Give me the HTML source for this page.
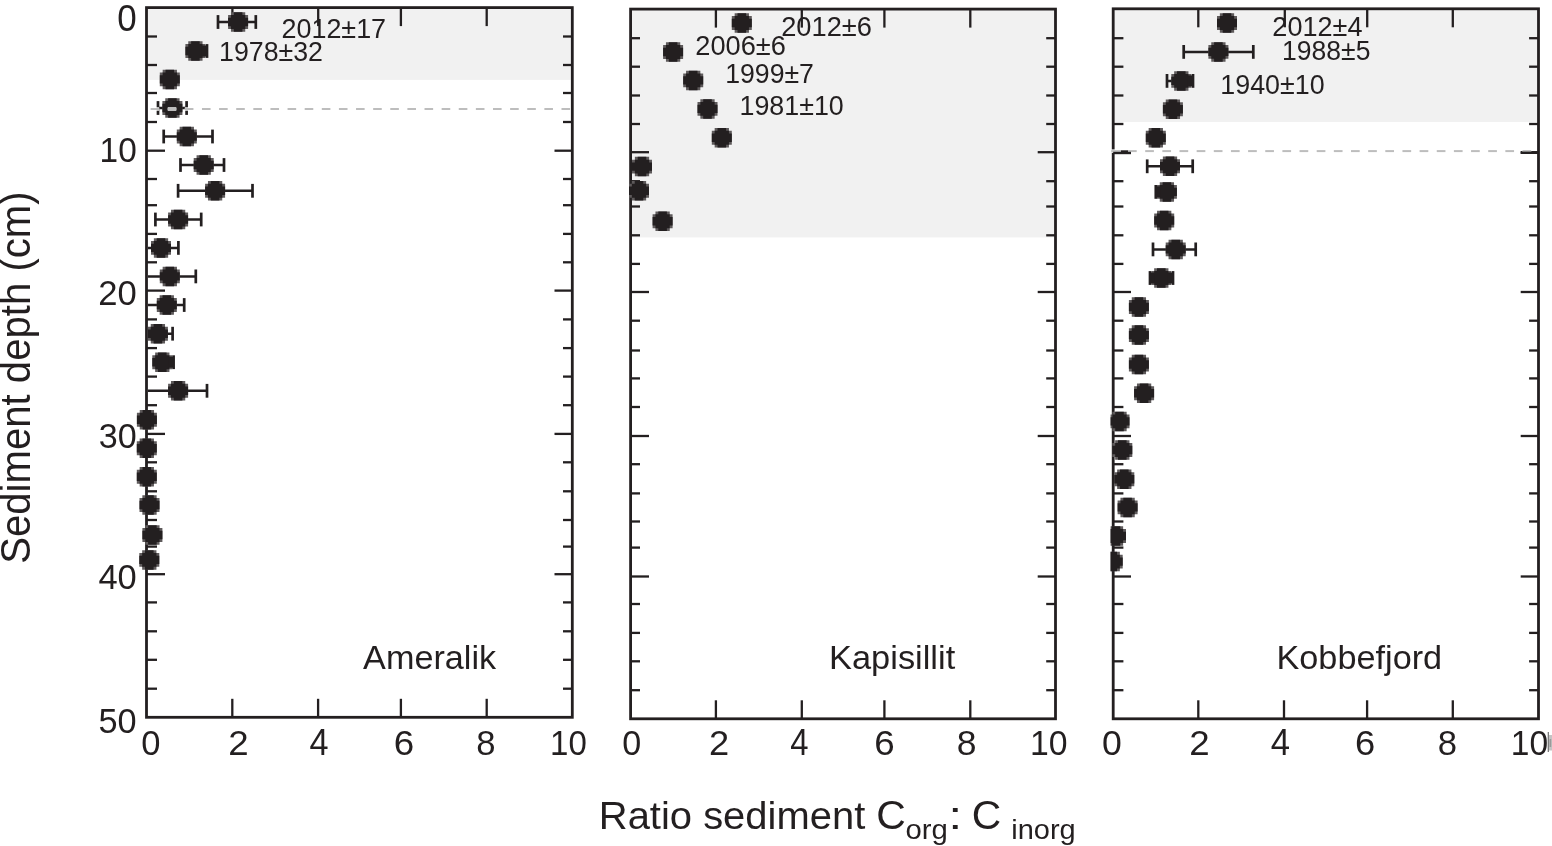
<!DOCTYPE html><html><head><meta charset="utf-8"><title>Ratio sediment Corg : Cinorg</title><style>html,body{margin:0;padding:0;background:#fff;}svg{display:block;}text{font-family:"Liberation Sans", sans-serif;}</style></head><body>
<svg width="1552" height="846" viewBox="0 0 1552 846">
<rect x="0" y="0" width="1552" height="846" fill="#fff"/>
<defs>
<g id="mk"><path d="M-7.143,-9.750 L7.143,-9.750 L7.143,-6.964 L10.000,-6.964 L10.000,6.964 L7.143,6.964 L7.143,9.750 L-7.143,9.750 L-7.143,6.964 L-10.000,6.964 L-10.000,-6.964 L-7.143,-6.964 Z" fill="#5e5a5b"/><path d="M-4.286,-9.750 L4.286,-9.750 L4.286,-6.964 L7.143,-6.964 L7.143,-4.179 L10.000,-4.179 L10.000,4.179 L7.143,4.179 L7.143,6.964 L4.286,6.964 L4.286,9.750 L-4.286,9.750 L-4.286,6.964 L-7.143,6.964 L-7.143,4.179 L-10.000,4.179 L-10.000,-4.179 L-7.143,-4.179 L-7.143,-6.964 L-4.286,-6.964 Z" fill="#231f20"/></g>
<clipPath id="c0"><rect x="113.90" y="0" width="465.80" height="846"/></clipPath>
<clipPath id="c1"><rect x="628.00" y="0" width="464.90" height="846"/></clipPath>
<clipPath id="c2"><rect x="1110.60" y="0" width="465.30" height="846"/></clipPath>
</defs>
<rect x="146.50" y="7.60" width="425.80" height="72.30" fill="#f1f1f1"/>
<rect x="630.60" y="9.10" width="424.90" height="228.30" fill="#f1f1f1"/>
<rect x="1113.20" y="8.80" width="425.30" height="113.20" fill="#f1f1f1"/>
<g stroke="#231f20" stroke-width="2.3"><line x1="146.50" y1="36.50" x2="157.00" y2="36.50"/><line x1="572.30" y1="36.50" x2="563.00" y2="36.50"/><line x1="146.50" y1="65.00" x2="157.00" y2="65.00"/><line x1="572.30" y1="65.00" x2="563.00" y2="65.00"/><line x1="146.50" y1="93.00" x2="157.00" y2="93.00"/><line x1="572.30" y1="93.00" x2="563.00" y2="93.00"/><line x1="146.50" y1="122.00" x2="157.00" y2="122.00"/><line x1="572.30" y1="122.00" x2="563.00" y2="122.00"/><line x1="146.50" y1="150.70" x2="165.00" y2="150.70"/><line x1="572.30" y1="150.70" x2="554.50" y2="150.70"/><line x1="146.50" y1="179.00" x2="157.00" y2="179.00"/><line x1="572.30" y1="179.00" x2="563.00" y2="179.00"/><line x1="146.50" y1="205.20" x2="157.00" y2="205.20"/><line x1="572.30" y1="205.20" x2="563.00" y2="205.20"/><line x1="146.50" y1="233.90" x2="157.00" y2="233.90"/><line x1="572.30" y1="233.90" x2="563.00" y2="233.90"/><line x1="146.50" y1="262.30" x2="157.00" y2="262.30"/><line x1="572.30" y1="262.30" x2="563.00" y2="262.30"/><line x1="146.50" y1="290.60" x2="165.00" y2="290.60"/><line x1="572.30" y1="290.60" x2="554.50" y2="290.60"/><line x1="146.50" y1="319.40" x2="157.00" y2="319.40"/><line x1="572.30" y1="319.40" x2="563.00" y2="319.40"/><line x1="146.50" y1="348.10" x2="157.00" y2="348.10"/><line x1="572.30" y1="348.10" x2="563.00" y2="348.10"/><line x1="146.50" y1="376.60" x2="157.00" y2="376.60"/><line x1="572.30" y1="376.60" x2="563.00" y2="376.60"/><line x1="146.50" y1="405.20" x2="157.00" y2="405.20"/><line x1="572.30" y1="405.20" x2="563.00" y2="405.20"/><line x1="146.50" y1="433.90" x2="165.00" y2="433.90"/><line x1="572.30" y1="433.90" x2="554.50" y2="433.90"/><line x1="146.50" y1="462.30" x2="157.00" y2="462.30"/><line x1="572.30" y1="462.30" x2="563.00" y2="462.30"/><line x1="146.50" y1="491.30" x2="157.00" y2="491.30"/><line x1="572.30" y1="491.30" x2="563.00" y2="491.30"/><line x1="146.50" y1="520.00" x2="157.00" y2="520.00"/><line x1="572.30" y1="520.00" x2="563.00" y2="520.00"/><line x1="146.50" y1="546.60" x2="157.00" y2="546.60"/><line x1="572.30" y1="546.60" x2="563.00" y2="546.60"/><line x1="146.50" y1="574.20" x2="165.00" y2="574.20"/><line x1="572.30" y1="574.20" x2="554.50" y2="574.20"/><line x1="146.50" y1="602.40" x2="157.00" y2="602.40"/><line x1="572.30" y1="602.40" x2="563.00" y2="602.40"/><line x1="146.50" y1="631.30" x2="157.00" y2="631.30"/><line x1="572.30" y1="631.30" x2="563.00" y2="631.30"/><line x1="146.50" y1="659.80" x2="157.00" y2="659.80"/><line x1="572.30" y1="659.80" x2="563.00" y2="659.80"/><line x1="146.50" y1="688.70" x2="157.00" y2="688.70"/><line x1="572.30" y1="688.70" x2="563.00" y2="688.70"/><line x1="232.30" y1="717.30" x2="232.30" y2="698.80"/><line x1="318.10" y1="717.30" x2="318.10" y2="698.80"/><line x1="400.90" y1="717.30" x2="400.90" y2="698.80"/><line x1="486.70" y1="717.30" x2="486.70" y2="698.80"/><line x1="232.40" y1="7.60" x2="232.40" y2="26.10"/><line x1="318.20" y1="7.60" x2="318.20" y2="26.10"/><line x1="400.90" y1="7.60" x2="400.90" y2="26.10"/><line x1="486.70" y1="7.60" x2="486.70" y2="26.10"/></g>
<g stroke="#231f20" stroke-width="2.3"><line x1="630.60" y1="38.20" x2="640.00" y2="38.20"/><line x1="1055.50" y1="38.20" x2="1046.20" y2="38.20"/><line x1="630.60" y1="66.70" x2="640.00" y2="66.70"/><line x1="1055.50" y1="66.70" x2="1046.20" y2="66.70"/><line x1="630.60" y1="95.50" x2="640.00" y2="95.50"/><line x1="1055.50" y1="95.50" x2="1046.20" y2="95.50"/><line x1="630.60" y1="124.00" x2="640.00" y2="124.00"/><line x1="1055.50" y1="124.00" x2="1046.20" y2="124.00"/><line x1="630.60" y1="152.20" x2="649.00" y2="152.20"/><line x1="1055.50" y1="152.20" x2="1037.70" y2="152.20"/><line x1="630.60" y1="181.20" x2="640.00" y2="181.20"/><line x1="1055.50" y1="181.20" x2="1046.20" y2="181.20"/><line x1="630.60" y1="206.50" x2="640.00" y2="206.50"/><line x1="1055.50" y1="206.50" x2="1046.20" y2="206.50"/><line x1="630.60" y1="235.30" x2="640.00" y2="235.30"/><line x1="1055.50" y1="235.30" x2="1046.20" y2="235.30"/><line x1="630.60" y1="263.90" x2="640.00" y2="263.90"/><line x1="1055.50" y1="263.90" x2="1046.20" y2="263.90"/><line x1="630.60" y1="292.00" x2="649.00" y2="292.00"/><line x1="1055.50" y1="292.00" x2="1037.70" y2="292.00"/><line x1="630.60" y1="320.70" x2="640.00" y2="320.70"/><line x1="1055.50" y1="320.70" x2="1046.20" y2="320.70"/><line x1="630.60" y1="350.50" x2="640.00" y2="350.50"/><line x1="1055.50" y1="350.50" x2="1046.20" y2="350.50"/><line x1="630.60" y1="378.40" x2="640.00" y2="378.40"/><line x1="1055.50" y1="378.40" x2="1046.20" y2="378.40"/><line x1="630.60" y1="407.00" x2="640.00" y2="407.00"/><line x1="1055.50" y1="407.00" x2="1046.20" y2="407.00"/><line x1="630.60" y1="436.00" x2="649.00" y2="436.00"/><line x1="1055.50" y1="436.00" x2="1037.70" y2="436.00"/><line x1="630.60" y1="464.20" x2="640.00" y2="464.20"/><line x1="1055.50" y1="464.20" x2="1046.20" y2="464.20"/><line x1="630.60" y1="493.40" x2="640.00" y2="493.40"/><line x1="1055.50" y1="493.40" x2="1046.20" y2="493.40"/><line x1="630.60" y1="521.50" x2="640.00" y2="521.50"/><line x1="1055.50" y1="521.50" x2="1046.20" y2="521.50"/><line x1="630.60" y1="547.60" x2="640.00" y2="547.60"/><line x1="1055.50" y1="547.60" x2="1046.20" y2="547.60"/><line x1="630.60" y1="576.50" x2="649.00" y2="576.50"/><line x1="1055.50" y1="576.50" x2="1037.70" y2="576.50"/><line x1="630.60" y1="604.00" x2="640.00" y2="604.00"/><line x1="1055.50" y1="604.00" x2="1046.20" y2="604.00"/><line x1="630.60" y1="632.90" x2="640.00" y2="632.90"/><line x1="1055.50" y1="632.90" x2="1046.20" y2="632.90"/><line x1="630.60" y1="661.30" x2="640.00" y2="661.30"/><line x1="1055.50" y1="661.30" x2="1046.20" y2="661.30"/><line x1="630.60" y1="690.20" x2="640.00" y2="690.20"/><line x1="1055.50" y1="690.20" x2="1046.20" y2="690.20"/><line x1="715.90" y1="718.80" x2="715.90" y2="700.30"/><line x1="801.80" y1="718.80" x2="801.80" y2="700.30"/><line x1="884.40" y1="718.80" x2="884.40" y2="700.30"/><line x1="970.30" y1="718.80" x2="970.30" y2="700.30"/><line x1="715.90" y1="9.10" x2="715.90" y2="27.60"/><line x1="801.80" y1="9.10" x2="801.80" y2="27.60"/><line x1="884.40" y1="9.10" x2="884.40" y2="27.60"/><line x1="970.30" y1="9.10" x2="970.30" y2="27.60"/></g>
<g stroke="#231f20" stroke-width="2.3"><line x1="1113.20" y1="38.20" x2="1123.40" y2="38.20"/><line x1="1538.50" y1="38.20" x2="1529.10" y2="38.20"/><line x1="1113.20" y1="66.70" x2="1123.40" y2="66.70"/><line x1="1538.50" y1="66.70" x2="1529.10" y2="66.70"/><line x1="1113.20" y1="95.50" x2="1123.40" y2="95.50"/><line x1="1538.50" y1="95.50" x2="1529.10" y2="95.50"/><line x1="1113.20" y1="124.00" x2="1123.40" y2="124.00"/><line x1="1538.50" y1="124.00" x2="1529.10" y2="124.00"/><line x1="1113.20" y1="152.20" x2="1131.00" y2="152.20"/><line x1="1538.50" y1="152.20" x2="1520.70" y2="152.20"/><line x1="1113.20" y1="181.20" x2="1123.40" y2="181.20"/><line x1="1538.50" y1="181.20" x2="1529.10" y2="181.20"/><line x1="1113.20" y1="206.50" x2="1123.40" y2="206.50"/><line x1="1538.50" y1="206.50" x2="1529.10" y2="206.50"/><line x1="1113.20" y1="235.30" x2="1123.40" y2="235.30"/><line x1="1538.50" y1="235.30" x2="1529.10" y2="235.30"/><line x1="1113.20" y1="263.90" x2="1123.40" y2="263.90"/><line x1="1538.50" y1="263.90" x2="1529.10" y2="263.90"/><line x1="1113.20" y1="292.00" x2="1131.00" y2="292.00"/><line x1="1538.50" y1="292.00" x2="1520.70" y2="292.00"/><line x1="1113.20" y1="320.70" x2="1123.40" y2="320.70"/><line x1="1538.50" y1="320.70" x2="1529.10" y2="320.70"/><line x1="1113.20" y1="350.50" x2="1123.40" y2="350.50"/><line x1="1538.50" y1="350.50" x2="1529.10" y2="350.50"/><line x1="1113.20" y1="378.40" x2="1123.40" y2="378.40"/><line x1="1538.50" y1="378.40" x2="1529.10" y2="378.40"/><line x1="1113.20" y1="407.00" x2="1123.40" y2="407.00"/><line x1="1538.50" y1="407.00" x2="1529.10" y2="407.00"/><line x1="1113.20" y1="436.00" x2="1131.00" y2="436.00"/><line x1="1538.50" y1="436.00" x2="1520.70" y2="436.00"/><line x1="1113.20" y1="464.20" x2="1123.40" y2="464.20"/><line x1="1538.50" y1="464.20" x2="1529.10" y2="464.20"/><line x1="1113.20" y1="493.40" x2="1123.40" y2="493.40"/><line x1="1538.50" y1="493.40" x2="1529.10" y2="493.40"/><line x1="1113.20" y1="521.50" x2="1123.40" y2="521.50"/><line x1="1538.50" y1="521.50" x2="1529.10" y2="521.50"/><line x1="1113.20" y1="547.60" x2="1123.40" y2="547.60"/><line x1="1538.50" y1="547.60" x2="1529.10" y2="547.60"/><line x1="1113.20" y1="576.50" x2="1131.00" y2="576.50"/><line x1="1538.50" y1="576.50" x2="1520.70" y2="576.50"/><line x1="1113.20" y1="604.00" x2="1123.40" y2="604.00"/><line x1="1538.50" y1="604.00" x2="1529.10" y2="604.00"/><line x1="1113.20" y1="632.90" x2="1123.40" y2="632.90"/><line x1="1538.50" y1="632.90" x2="1529.10" y2="632.90"/><line x1="1113.20" y1="661.30" x2="1123.40" y2="661.30"/><line x1="1538.50" y1="661.30" x2="1529.10" y2="661.30"/><line x1="1113.20" y1="690.20" x2="1123.40" y2="690.20"/><line x1="1538.50" y1="690.20" x2="1529.10" y2="690.20"/><line x1="1198.30" y1="718.80" x2="1198.30" y2="700.30"/><line x1="1284.00" y1="718.80" x2="1284.00" y2="700.30"/><line x1="1367.10" y1="718.80" x2="1367.10" y2="700.30"/><line x1="1452.80" y1="718.80" x2="1452.80" y2="700.30"/><line x1="1198.30" y1="8.80" x2="1198.30" y2="27.30"/><line x1="1284.80" y1="8.80" x2="1284.80" y2="27.30"/><line x1="1367.20" y1="8.80" x2="1367.20" y2="27.30"/><line x1="1452.80" y1="8.80" x2="1452.80" y2="27.30"/></g>
<rect x="146.50" y="7.60" width="425.80" height="709.70" fill="none" stroke="#231f20" stroke-width="2.8" stroke-linejoin="miter"/>
<rect x="630.60" y="9.10" width="424.90" height="709.70" fill="none" stroke="#231f20" stroke-width="2.8" stroke-linejoin="miter"/>
<rect x="1113.20" y="8.80" width="425.30" height="710.00" fill="none" stroke="#231f20" stroke-width="2.8" stroke-linejoin="miter"/>
<g clip-path="url(#c0)"><line x1="218.00" y1="22.00" x2="255.80" y2="22.00" stroke="#231f20" stroke-width="2.5"/><rect x="216.65" y="15.10" width="2.7" height="13.8" fill="#231f20"/><rect x="254.45" y="15.10" width="2.7" height="13.8" fill="#231f20"/><use href="#mk" x="238.10" y="22.00"/><line x1="195.40" y1="51.00" x2="207.00" y2="51.00" stroke="#231f20" stroke-width="2.5"/><rect x="205.65" y="44.10" width="2.7" height="13.8" fill="#231f20"/><use href="#mk" x="195.40" y="51.00"/><rect x="201.90" y="45.50" width="5.10" height="11" fill="#231f20"/><use href="#mk" x="169.80" y="79.40"/><line x1="158.00" y1="108.00" x2="186.60" y2="108.00" stroke="#231f20" stroke-width="2.5"/><rect x="156.65" y="101.10" width="2.7" height="13.8" fill="#231f20"/><rect x="185.25" y="101.10" width="2.7" height="13.8" fill="#231f20"/><use href="#mk" x="172.40" y="108.00"/><line x1="163.70" y1="136.50" x2="212.50" y2="136.50" stroke="#231f20" stroke-width="2.5"/><rect x="162.35" y="129.60" width="2.7" height="13.8" fill="#231f20"/><rect x="211.15" y="129.60" width="2.7" height="13.8" fill="#231f20"/><use href="#mk" x="186.80" y="136.50"/><line x1="180.50" y1="165.00" x2="224.00" y2="165.00" stroke="#231f20" stroke-width="2.5"/><rect x="179.15" y="158.10" width="2.7" height="13.8" fill="#231f20"/><rect x="222.65" y="158.10" width="2.7" height="13.8" fill="#231f20"/><use href="#mk" x="203.70" y="165.00"/><line x1="178.10" y1="190.80" x2="252.50" y2="190.80" stroke="#231f20" stroke-width="2.5"/><rect x="176.75" y="183.90" width="2.7" height="13.8" fill="#231f20"/><rect x="251.15" y="183.90" width="2.7" height="13.8" fill="#231f20"/><use href="#mk" x="215.10" y="190.80"/><line x1="155.40" y1="219.50" x2="201.20" y2="219.50" stroke="#231f20" stroke-width="2.5"/><rect x="154.05" y="212.60" width="2.7" height="13.8" fill="#231f20"/><rect x="199.85" y="212.60" width="2.7" height="13.8" fill="#231f20"/><use href="#mk" x="178.10" y="219.50"/><line x1="148.00" y1="247.90" x2="178.40" y2="247.90" stroke="#231f20" stroke-width="2.5"/><rect x="177.05" y="241.00" width="2.7" height="13.8" fill="#231f20"/><use href="#mk" x="161.00" y="247.90"/><line x1="148.00" y1="276.40" x2="195.80" y2="276.40" stroke="#231f20" stroke-width="2.5"/><rect x="194.45" y="269.50" width="2.7" height="13.8" fill="#231f20"/><use href="#mk" x="169.80" y="276.40"/><line x1="148.00" y1="305.00" x2="184.20" y2="305.00" stroke="#231f20" stroke-width="2.5"/><rect x="182.85" y="298.10" width="2.7" height="13.8" fill="#231f20"/><use href="#mk" x="166.80" y="305.00"/><line x1="148.00" y1="333.70" x2="172.60" y2="333.70" stroke="#231f20" stroke-width="2.5"/><rect x="171.25" y="326.80" width="2.7" height="13.8" fill="#231f20"/><use href="#mk" x="157.90" y="333.70"/><line x1="162.30" y1="362.20" x2="173.60" y2="362.20" stroke="#231f20" stroke-width="2.5"/><rect x="172.25" y="355.30" width="2.7" height="13.8" fill="#231f20"/><use href="#mk" x="162.30" y="362.20"/><rect x="168.80" y="356.70" width="4.80" height="11" fill="#231f20"/><line x1="148.00" y1="390.80" x2="207.00" y2="390.80" stroke="#231f20" stroke-width="2.5"/><rect x="205.65" y="383.90" width="2.7" height="13.8" fill="#231f20"/><use href="#mk" x="178.10" y="390.80"/><use href="#mk" x="146.90" y="419.70"/><use href="#mk" x="146.80" y="448.30"/><use href="#mk" x="146.80" y="476.70"/><use href="#mk" x="149.50" y="505.00"/><use href="#mk" x="152.40" y="535.00"/><use href="#mk" x="149.30" y="559.90"/></g>
<g clip-path="url(#c1)"><use href="#mk" x="741.80" y="23.00"/><use href="#mk" x="673.10" y="52.00"/><use href="#mk" x="693.20" y="80.40"/><use href="#mk" x="707.50" y="108.90"/><use href="#mk" x="721.80" y="137.80"/><use href="#mk" x="642.00" y="166.60"/><use href="#mk" x="639.00" y="190.80"/><use href="#mk" x="662.60" y="221.20"/></g>
<g clip-path="url(#c2)"><use href="#mk" x="1227.00" y="23.00"/><line x1="1183.70" y1="51.90" x2="1253.30" y2="51.90" stroke="#231f20" stroke-width="2.5"/><rect x="1182.35" y="45.00" width="2.7" height="13.8" fill="#231f20"/><rect x="1251.95" y="45.00" width="2.7" height="13.8" fill="#231f20"/><use href="#mk" x="1218.40" y="51.90"/><line x1="1167.00" y1="80.90" x2="1193.00" y2="80.90" stroke="#231f20" stroke-width="2.5"/><rect x="1165.65" y="74.00" width="2.7" height="13.8" fill="#231f20"/><rect x="1191.65" y="74.00" width="2.7" height="13.8" fill="#231f20"/><use href="#mk" x="1181.30" y="80.90"/><rect x="1187.80" y="75.40" width="5.20" height="11" fill="#231f20"/><use href="#mk" x="1172.90" y="109.20"/><use href="#mk" x="1155.80" y="137.80"/><line x1="1147.20" y1="166.30" x2="1192.70" y2="166.30" stroke="#231f20" stroke-width="2.5"/><rect x="1145.85" y="159.40" width="2.7" height="13.8" fill="#231f20"/><rect x="1191.35" y="159.40" width="2.7" height="13.8" fill="#231f20"/><use href="#mk" x="1170.00" y="166.30"/><line x1="1155.80" y1="191.90" x2="1166.90" y2="191.90" stroke="#231f20" stroke-width="2.5"/><rect x="1154.45" y="185.00" width="2.7" height="13.8" fill="#231f20"/><use href="#mk" x="1166.90" y="191.90"/><rect x="1155.80" y="186.40" width="4.60" height="11" fill="#231f20"/><use href="#mk" x="1164.20" y="220.50"/><line x1="1153.00" y1="249.40" x2="1195.70" y2="249.40" stroke="#231f20" stroke-width="2.5"/><rect x="1151.65" y="242.50" width="2.7" height="13.8" fill="#231f20"/><rect x="1194.35" y="242.50" width="2.7" height="13.8" fill="#231f20"/><use href="#mk" x="1175.70" y="249.40"/><line x1="1150.00" y1="278.00" x2="1173.00" y2="278.00" stroke="#231f20" stroke-width="2.5"/><rect x="1148.65" y="271.10" width="2.7" height="13.8" fill="#231f20"/><rect x="1171.65" y="271.10" width="2.7" height="13.8" fill="#231f20"/><use href="#mk" x="1161.30" y="278.00"/><rect x="1150.00" y="272.50" width="4.80" height="11" fill="#231f20"/><rect x="1167.80" y="272.50" width="5.20" height="11" fill="#231f20"/><use href="#mk" x="1138.90" y="307.00"/><use href="#mk" x="1138.90" y="335.10"/><use href="#mk" x="1138.90" y="364.50"/><use href="#mk" x="1144.10" y="393.30"/><use href="#mk" x="1119.50" y="421.40"/><use href="#mk" x="1122.30" y="450.00"/><use href="#mk" x="1124.30" y="479.30"/><use href="#mk" x="1127.60" y="507.40"/><use href="#mk" x="1116.00" y="536.00"/><use href="#mk" x="1112.70" y="561.60"/></g>
<g stroke="#ffffff" stroke-width="3.4"><line x1="150.60" y1="109.0" x2="159.20" y2="109.0"/><line x1="167.72" y1="109.0" x2="176.32" y2="109.0"/><line x1="184.84" y1="109.0" x2="193.44" y2="109.0"/><line x1="201.96" y1="109.0" x2="210.56" y2="109.0"/><line x1="219.08" y1="109.0" x2="227.68" y2="109.0"/><line x1="236.20" y1="109.0" x2="244.80" y2="109.0"/><line x1="253.32" y1="109.0" x2="261.92" y2="109.0"/><line x1="270.44" y1="109.0" x2="279.04" y2="109.0"/><line x1="287.56" y1="109.0" x2="296.16" y2="109.0"/><line x1="304.68" y1="109.0" x2="313.28" y2="109.0"/><line x1="321.80" y1="109.0" x2="330.40" y2="109.0"/><line x1="338.92" y1="109.0" x2="347.52" y2="109.0"/><line x1="356.04" y1="109.0" x2="364.64" y2="109.0"/><line x1="373.16" y1="109.0" x2="381.76" y2="109.0"/><line x1="390.28" y1="109.0" x2="398.88" y2="109.0"/><line x1="407.40" y1="109.0" x2="416.00" y2="109.0"/><line x1="424.52" y1="109.0" x2="433.12" y2="109.0"/><line x1="441.64" y1="109.0" x2="450.24" y2="109.0"/><line x1="458.76" y1="109.0" x2="467.36" y2="109.0"/><line x1="475.88" y1="109.0" x2="484.48" y2="109.0"/><line x1="493.00" y1="109.0" x2="501.60" y2="109.0"/><line x1="510.12" y1="109.0" x2="518.72" y2="109.0"/><line x1="527.24" y1="109.0" x2="535.84" y2="109.0"/><line x1="544.36" y1="109.0" x2="552.96" y2="109.0"/><line x1="561.48" y1="109.0" x2="570.08" y2="109.0"/><line x1="1111.2" y1="151.1" x2="1136.7" y2="151.1"/><line x1="1145.20" y1="151.1" x2="1153.90" y2="151.1"/><line x1="1162.35" y1="151.1" x2="1171.05" y2="151.1"/><line x1="1179.50" y1="151.1" x2="1188.20" y2="151.1"/><line x1="1196.65" y1="151.1" x2="1205.35" y2="151.1"/><line x1="1213.80" y1="151.1" x2="1222.50" y2="151.1"/><line x1="1230.95" y1="151.1" x2="1239.65" y2="151.1"/><line x1="1248.10" y1="151.1" x2="1256.80" y2="151.1"/><line x1="1265.25" y1="151.1" x2="1273.95" y2="151.1"/><line x1="1282.40" y1="151.1" x2="1291.10" y2="151.1"/><line x1="1299.55" y1="151.1" x2="1308.25" y2="151.1"/><line x1="1316.70" y1="151.1" x2="1325.40" y2="151.1"/><line x1="1333.85" y1="151.1" x2="1342.55" y2="151.1"/><line x1="1351.00" y1="151.1" x2="1359.70" y2="151.1"/><line x1="1368.15" y1="151.1" x2="1376.85" y2="151.1"/><line x1="1385.30" y1="151.1" x2="1394.00" y2="151.1"/><line x1="1402.45" y1="151.1" x2="1411.15" y2="151.1"/><line x1="1419.60" y1="151.1" x2="1428.30" y2="151.1"/><line x1="1436.75" y1="151.1" x2="1445.45" y2="151.1"/><line x1="1453.90" y1="151.1" x2="1462.60" y2="151.1"/><line x1="1471.05" y1="151.1" x2="1479.75" y2="151.1"/><line x1="1488.20" y1="151.1" x2="1496.90" y2="151.1"/><line x1="1505.35" y1="151.1" x2="1514.05" y2="151.1"/><line x1="1522.50" y1="151.1" x2="1531.20" y2="151.1"/></g>
<g stroke="#bdbdbd" stroke-width="2"><line x1="150.60" y1="109.0" x2="159.20" y2="109.0"/><line x1="167.72" y1="109.0" x2="176.32" y2="109.0"/><line x1="184.84" y1="109.0" x2="193.44" y2="109.0"/><line x1="201.96" y1="109.0" x2="210.56" y2="109.0"/><line x1="219.08" y1="109.0" x2="227.68" y2="109.0"/><line x1="236.20" y1="109.0" x2="244.80" y2="109.0"/><line x1="253.32" y1="109.0" x2="261.92" y2="109.0"/><line x1="270.44" y1="109.0" x2="279.04" y2="109.0"/><line x1="287.56" y1="109.0" x2="296.16" y2="109.0"/><line x1="304.68" y1="109.0" x2="313.28" y2="109.0"/><line x1="321.80" y1="109.0" x2="330.40" y2="109.0"/><line x1="338.92" y1="109.0" x2="347.52" y2="109.0"/><line x1="356.04" y1="109.0" x2="364.64" y2="109.0"/><line x1="373.16" y1="109.0" x2="381.76" y2="109.0"/><line x1="390.28" y1="109.0" x2="398.88" y2="109.0"/><line x1="407.40" y1="109.0" x2="416.00" y2="109.0"/><line x1="424.52" y1="109.0" x2="433.12" y2="109.0"/><line x1="441.64" y1="109.0" x2="450.24" y2="109.0"/><line x1="458.76" y1="109.0" x2="467.36" y2="109.0"/><line x1="475.88" y1="109.0" x2="484.48" y2="109.0"/><line x1="493.00" y1="109.0" x2="501.60" y2="109.0"/><line x1="510.12" y1="109.0" x2="518.72" y2="109.0"/><line x1="527.24" y1="109.0" x2="535.84" y2="109.0"/><line x1="544.36" y1="109.0" x2="552.96" y2="109.0"/><line x1="561.48" y1="109.0" x2="570.08" y2="109.0"/><line x1="1111.2" y1="151.1" x2="1136.7" y2="151.1"/><line x1="1145.20" y1="151.1" x2="1153.90" y2="151.1"/><line x1="1162.35" y1="151.1" x2="1171.05" y2="151.1"/><line x1="1179.50" y1="151.1" x2="1188.20" y2="151.1"/><line x1="1196.65" y1="151.1" x2="1205.35" y2="151.1"/><line x1="1213.80" y1="151.1" x2="1222.50" y2="151.1"/><line x1="1230.95" y1="151.1" x2="1239.65" y2="151.1"/><line x1="1248.10" y1="151.1" x2="1256.80" y2="151.1"/><line x1="1265.25" y1="151.1" x2="1273.95" y2="151.1"/><line x1="1282.40" y1="151.1" x2="1291.10" y2="151.1"/><line x1="1299.55" y1="151.1" x2="1308.25" y2="151.1"/><line x1="1316.70" y1="151.1" x2="1325.40" y2="151.1"/><line x1="1333.85" y1="151.1" x2="1342.55" y2="151.1"/><line x1="1351.00" y1="151.1" x2="1359.70" y2="151.1"/><line x1="1368.15" y1="151.1" x2="1376.85" y2="151.1"/><line x1="1385.30" y1="151.1" x2="1394.00" y2="151.1"/><line x1="1402.45" y1="151.1" x2="1411.15" y2="151.1"/><line x1="1419.60" y1="151.1" x2="1428.30" y2="151.1"/><line x1="1436.75" y1="151.1" x2="1445.45" y2="151.1"/><line x1="1453.90" y1="151.1" x2="1462.60" y2="151.1"/><line x1="1471.05" y1="151.1" x2="1479.75" y2="151.1"/><line x1="1488.20" y1="151.1" x2="1496.90" y2="151.1"/><line x1="1505.35" y1="151.1" x2="1514.05" y2="151.1"/><line x1="1522.50" y1="151.1" x2="1531.20" y2="151.1"/></g>
<g stroke="#231f20" stroke-width="2.4"><line x1="1113.2" y1="153.0" x2="1131.0" y2="153.0"/><line x1="1538.5" y1="152.8" x2="1520.6" y2="152.8"/></g>
<line x1="1121" y1="151.2" x2="1128" y2="151.2" stroke="#231f20" stroke-width="1.6"/>
<text transform="translate(281.45,38.30) scale(1.0018,1)" font-size="26.90" fill="#231f20">2012±17</text>
<text transform="translate(219.09,61.00) scale(0.9946,1)" font-size="26.90" fill="#231f20">1978±32</text>
<text transform="translate(781.14,36.00) scale(1.0147,1)" font-size="26.90" fill="#231f20">2012±6</text>
<text transform="translate(695.34,55.00) scale(1.0112,1)" font-size="26.90" fill="#231f20">2006±6</text>
<text transform="translate(725.20,83.30) scale(0.9917,1)" font-size="26.90" fill="#231f20">1999±7</text>
<text transform="translate(739.49,115.30) scale(0.9982,1)" font-size="26.90" fill="#231f20">1981±10</text>
<text transform="translate(1272.35,35.50) scale(1.0066,1)" font-size="26.90" fill="#231f20">2012±4</text>
<text transform="translate(1282.11,60.10) scale(0.9859,1)" font-size="26.90" fill="#231f20">1988±5</text>
<text transform="translate(1220.29,93.50) scale(0.9982,1)" font-size="26.90" fill="#231f20">1940±10</text>
<text transform="translate(117.30,30.90) scale(0.9680,1)" font-size="36.13" fill="#231f20">0</text>
<text transform="translate(99.60,161.80) scale(0.9427,1)" font-size="35.41" fill="#231f20">10</text>
<text transform="translate(98.27,304.80) scale(0.9737,1)" font-size="35.56" fill="#231f20">20</text>
<text transform="translate(98.82,447.60) scale(0.9592,1)" font-size="35.56" fill="#231f20">30</text>
<text transform="translate(98.42,588.60) scale(0.9736,1)" font-size="35.41" fill="#231f20">40</text>
<text transform="translate(98.53,732.50) scale(0.9604,1)" font-size="35.70" fill="#231f20">50</text>
<text transform="translate(141.22,754.50) scale(0.9641,1)" font-size="35.84" fill="#231f20">0</text>
<text transform="translate(228.16,754.50) scale(1.0240,1)" font-size="35.84" fill="#231f20">2</text>
<text transform="translate(309.43,754.50) scale(0.9421,1)" font-size="36.36" fill="#231f20">4</text>
<text transform="translate(393.76,754.50) scale(1.0255,1)" font-size="35.84" fill="#231f20">6</text>
<text transform="translate(476.33,754.50) scale(0.9676,1)" font-size="35.84" fill="#231f20">8</text>
<text transform="translate(550.02,754.50) scale(0.9230,1)" font-size="35.84" fill="#231f20">10</text>
<text transform="translate(622.13,754.50) scale(0.9524,1)" font-size="35.84" fill="#231f20">0</text>
<text transform="translate(709.09,754.50) scale(1.0118,1)" font-size="35.84" fill="#231f20">2</text>
<text transform="translate(790.36,754.50) scale(0.9040,1)" font-size="36.36" fill="#231f20">4</text>
<text transform="translate(874.26,754.50) scale(1.0255,1)" font-size="35.84" fill="#231f20">6</text>
<text transform="translate(956.79,754.50) scale(0.9913,1)" font-size="35.84" fill="#231f20">8</text>
<text transform="translate(1030.07,754.50) scale(0.9426,1)" font-size="35.84" fill="#231f20">10</text>
<text transform="translate(1102.08,754.50) scale(0.9933,1)" font-size="35.84" fill="#231f20">0</text>
<text transform="translate(1189.36,754.50) scale(1.0240,1)" font-size="35.84" fill="#231f20">2</text>
<text transform="translate(1270.82,754.50) scale(0.9530,1)" font-size="36.36" fill="#231f20">4</text>
<text transform="translate(1354.88,754.50) scale(1.0134,1)" font-size="35.84" fill="#231f20">6</text>
<text transform="translate(1437.73,754.50) scale(0.9676,1)" font-size="35.84" fill="#231f20">8</text>
<text transform="translate(1510.78,754.50) scale(0.9370,1)" font-size="35.84" fill="#231f20">10</text>
<text transform="translate(363.11,669.20) scale(1.0062,1)" font-size="34.00" fill="#231f20">Ameralik</text>
<text transform="translate(829.06,669.20) scale(1.0120,1)" font-size="34.00" fill="#231f20">Kapisillit</text>
<text transform="translate(1276.47,668.90) scale(1.0078,1)" font-size="34.00" fill="#231f20">Kobbefjord</text>
<text transform="translate(598.80,829.00) scale(1.0115,1)" font-size="39.50" fill="#231f20">Ratio sediment</text>
<text transform="translate(876.15,829.30) scale(0.9987,1)" font-size="41.00" fill="#231f20">C</text>
<text transform="translate(905.55,839.10) scale(1.0284,1)" font-size="28.50" fill="#231f20">org</text>
<text transform="translate(948.13,829.10) scale(1.2752,1)" font-size="39.62" fill="#231f20">:</text>
<text transform="translate(971.66,829.30) scale(0.9949,1)" font-size="41.00" fill="#231f20">C</text>
<text transform="translate(1011.24,839.10) scale(1.0178,1)" font-size="28.50" fill="#231f20">inorg</text>
<text transform="translate(30.0,563.8) rotate(-90) scale(0.960,1)" font-size="41.8" fill="#231f20">Sediment depth (cm)</text>
<rect x="1548.9" y="735" width="3.1" height="15.5" fill="#c4c4c4"/><rect x="1549.6" y="739" width="1.6" height="8" fill="#9a9a9a"/><rect x="1547.7" y="732" width="1.2" height="20" fill="#6d6d6d"/>
</svg></body></html>
